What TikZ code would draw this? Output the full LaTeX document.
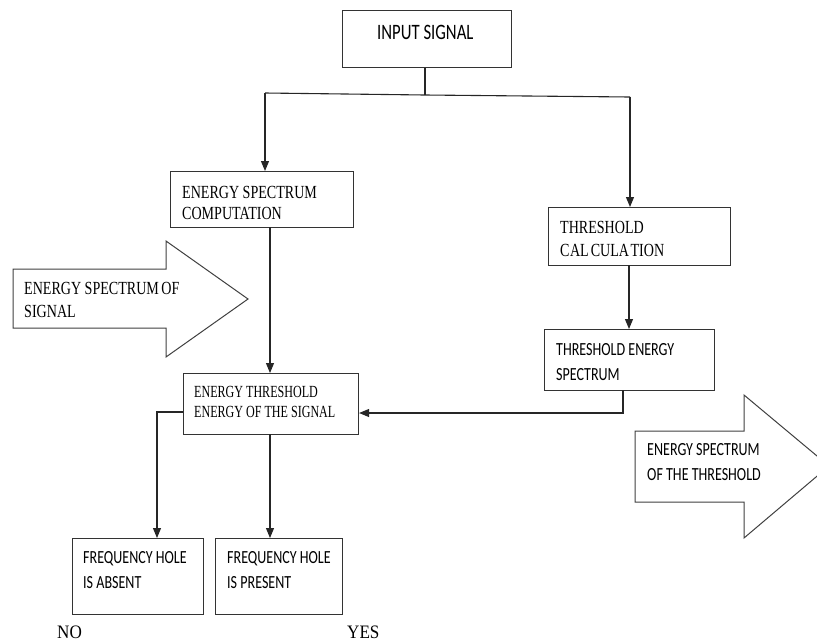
\documentclass[tikz,border=0pt]{standalone}
\usepackage{fontspec}
\usetikzlibrary{arrows.meta,calc}
\newfontfamily\tmsfont[FakeStretch=0.76]{Liberation Serif}
\newfontfamily\tmsnfont[FakeStretch=0.71]{Liberation Serif}
\newfontfamily\tmsbfont[FakeStretch=0.9]{Liberation Serif}
\newfontfamily\calfont[FakeStretch=0.76]{Carlito}
\begin{document}
\begin{tikzpicture}[x=1pt,y=-1pt,
  boxs/.style={draw=black!80,line width=1.1pt,fill=white,inner sep=0pt,anchor=north west},
  conn/.style={draw=black!85,line width=1.1pt},
  arr/.style={conn,-{Triangle[length=10pt,width=8pt]}},
  tt/.style={anchor=base west,inner sep=0pt,font=\tmsfont\fontsize{18.5}{21}\selectfont},
  tn/.style={anchor=base west,inner sep=0pt,font=\tmsnfont\fontsize{17}{20}\selectfont},
  ct/.style={anchor=base west,inner sep=0pt,font=\calfont\fontsize{18.5}{25}\selectfont},
  bigarrow/.style={draw=black!75,line width=1pt,fill=white,line join=miter}]
\useasboundingbox (0,0) rectangle (817,641);
% boxes
\node[boxs,minimum width=169pt,minimum height=57pt] (inp) at (342,10) {};
\node[boxs,minimum width=183pt,minimum height=56pt] (esc) at (170,171) {};
\node[boxs,minimum width=182pt,minimum height=58pt] (thc) at (548,207) {};
\node[boxs,minimum width=170pt,minimum height=61pt] (tes) at (544,329) {};
\node[boxs,minimum width=175pt,minimum height=61pt] (et) at (183,373) {};
\node[boxs,minimum width=131pt,minimum height=76pt] (fa) at (72,538) {};
\node[boxs,minimum width=127pt,minimum height=76pt] (fp) at (215,538) {};
% texts
\node[anchor=base west,inner sep=0pt,font=\calfont\fontsize{22}{26}\selectfont] (tinp) at (377,39) {INPUT SIGNAL};
\node[tt] (tesc1) at (182,198) {ENERGY SPECTRUM};
\node[tt] (tesc2) at (182,219) {COMPUTATION};
\node[tt] (tthc1) at (560,233) {THRESHOLD};
\node[tt] (tthc2) at (560,256) {C\kern0.5ptAL\kern2ptCULA\kern1.5ptTION};
\node[ct] (ttes1) at (556,355) {THRESHOLD ENERGY};
\node[ct] (ttes2) at (556,380) {SPECTRUM};
\node[tn] (tet1) at (194,397) {ENERGY THRESHOLD};
\node[tn] (tet2) at (194,417) {ENERGY OF THE SIGNAL};
\node[ct] (tfa1) at (83,563) {FREQUENCY HOLE};
\node[ct] (tfa2) at (83,588) {IS ABSENT};
\node[ct] (tfp1) at (227,563) {FREQUENCY HOLE};
\node[ct] (tfp2) at (227,588) {IS PRESENT};
\node[anchor=base west,inner sep=0pt,font=\tmsbfont\fontsize{19}{22}\selectfont] (no) at (57,638) {NO};
\node[anchor=base west,inner sep=0pt,font=\tmsbfont\fontsize{19}{22}\selectfont] (yes) at (347,638) {YES};
% big arrows
\draw[bigarrow] (13,269) -- (166,269) -- (166,241) -- (248,299) -- (166,357) -- (166,328) -- (13,328) -- cycle;
\node[tt] (tla1) at (24,294) {ENERGY SPECTRUM\kern-1pt\ OF};
\node[tt] (tla2) at (24,317) {SIGNAL};
\draw[bigarrow] (635,431) -- (744,431) -- (744,395) -- (829,466) -- (744,538) -- (744,502) -- (635,502) -- cycle;
\node[ct] (tra1) at (647,455) {ENERGY SPECTRUM};
\node[ct] (tra2) at (647,480) {OF THE THRESHOLD};
% connectors
\coordinate (j) at (425,95);
\coordinate (jl) at (265,93);
\coordinate (jr) at (630,97);
\draw[conn] (inp.south -| j) -- (j);
\draw[conn] (jl) -- (j) -- (jr);
\draw[arr] (jl) -- (jl |- esc.north);
\draw[arr] (jr) -- (jr |- thc.north);
\coordinate (e1) at (270,227);
\draw[arr] (e1) -- (e1 |- et.north);
\coordinate (t1) at (629,265);
\draw[arr] (t1) -- (t1 |- tes.north);
\coordinate (t2) at (623,390);
\coordinate (t3) at (623,413);
\draw[arr] (t2) -- (t3) -- (t3 -| et.east);
\coordinate (l1) at (183,412);
\coordinate (l2) at (157,412);
\draw[arr] (l1) -- (l2) -- (l2 |- fa.north);
\coordinate (b1) at (270,434);
\draw[arr] (b1) -- (b1 |- fp.north);
\end{tikzpicture}
\end{document}
